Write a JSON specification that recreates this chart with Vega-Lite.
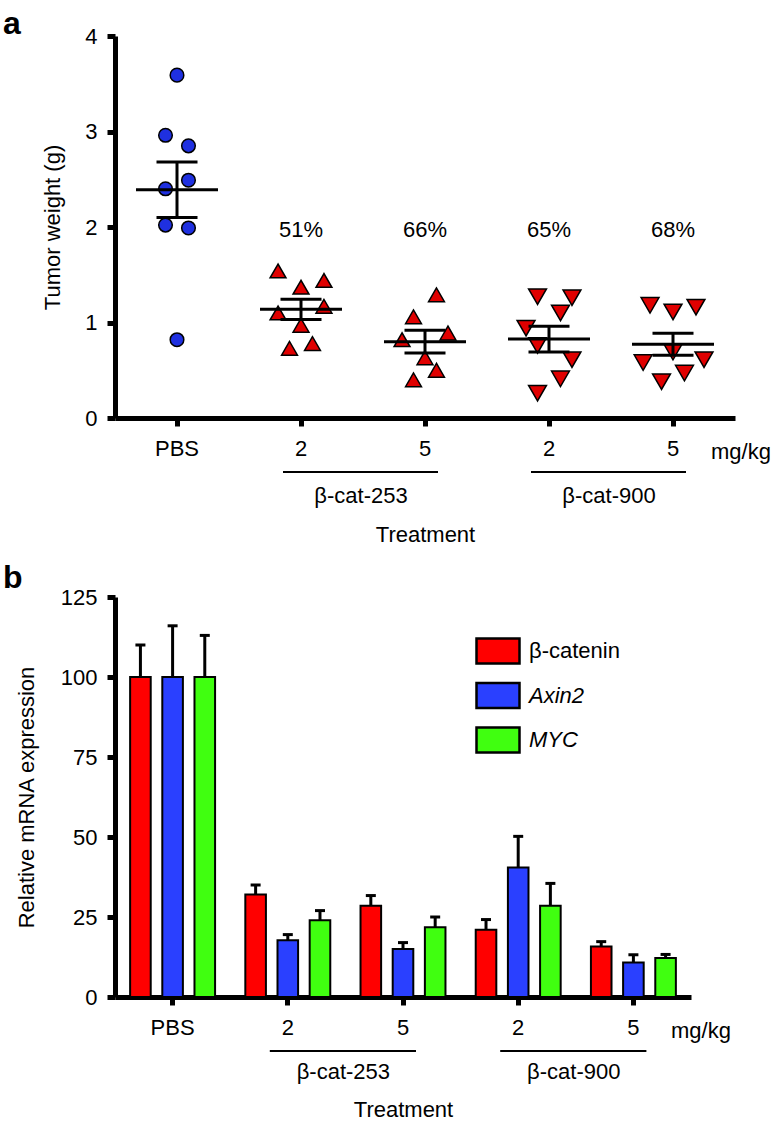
{
  "$schema": "https://vega.github.io/schema/vega-lite/v6.json",
  "background": "white",
  "padding": {"left": 3, "top": 8, "right": 0, "bottom": 0},
  "spacing": 17,
  "resolve": {
    "scale": {"x": "independent", "y": "independent", "fill": "independent", "shape": "independent", "size": "independent", "xOffset": "independent"},
    "legend": {"fill": "independent"}
  },
  "datasets": {
    "tumor": [
      {"group": "PBS", "compound": "PBS", "lane": 0, "weight": 3.59},
      {"group": "PBS", "compound": "PBS", "lane": -1, "weight": 2.96},
      {"group": "PBS", "compound": "PBS", "lane": 1, "weight": 2.85},
      {"group": "PBS", "compound": "PBS", "lane": 1, "weight": 2.49},
      {"group": "PBS", "compound": "PBS", "lane": -1, "weight": 2.40},
      {"group": "PBS", "compound": "PBS", "lane": -1, "weight": 2.02},
      {"group": "PBS", "compound": "PBS", "lane": 1, "weight": 1.99},
      {"group": "PBS", "compound": "PBS", "lane": 0, "weight": 0.82},
      {"group": "β-cat-253|2", "compound": "β-cat-253", "lane": -2, "weight": 1.54},
      {"group": "β-cat-253|2", "compound": "β-cat-253", "lane": 2, "weight": 1.44},
      {"group": "β-cat-253|2", "compound": "β-cat-253", "lane": 0, "weight": 1.37},
      {"group": "β-cat-253|2", "compound": "β-cat-253", "lane": -2, "weight": 1.10},
      {"group": "β-cat-253|2", "compound": "β-cat-253", "lane": 2, "weight": 1.17},
      {"group": "β-cat-253|2", "compound": "β-cat-253", "lane": 0, "weight": 0.97},
      {"group": "β-cat-253|2", "compound": "β-cat-253", "lane": -1, "weight": 0.73},
      {"group": "β-cat-253|2", "compound": "β-cat-253", "lane": 1, "weight": 0.78},
      {"group": "β-cat-253|5", "compound": "β-cat-253", "lane": 1, "weight": 1.29},
      {"group": "β-cat-253|5", "compound": "β-cat-253", "lane": -1, "weight": 1.06},
      {"group": "β-cat-253|5", "compound": "β-cat-253", "lane": -2, "weight": 0.82},
      {"group": "β-cat-253|5", "compound": "β-cat-253", "lane": 2, "weight": 0.89},
      {"group": "β-cat-253|5", "compound": "β-cat-253", "lane": 0, "weight": 0.63},
      {"group": "β-cat-253|5", "compound": "β-cat-253", "lane": 1, "weight": 0.50},
      {"group": "β-cat-253|5", "compound": "β-cat-253", "lane": -1, "weight": 0.40},
      {"group": "β-cat-900|2", "compound": "β-cat-900", "lane": -1, "weight": 1.27},
      {"group": "β-cat-900|2", "compound": "β-cat-900", "lane": 2, "weight": 1.26},
      {"group": "β-cat-900|2", "compound": "β-cat-900", "lane": 1, "weight": 1.10},
      {"group": "β-cat-900|2", "compound": "β-cat-900", "lane": -2, "weight": 0.94},
      {"group": "β-cat-900|2", "compound": "β-cat-900", "lane": -1, "weight": 0.76},
      {"group": "β-cat-900|2", "compound": "β-cat-900", "lane": 2, "weight": 0.61},
      {"group": "β-cat-900|2", "compound": "β-cat-900", "lane": 1, "weight": 0.41},
      {"group": "β-cat-900|2", "compound": "β-cat-900", "lane": -1, "weight": 0.26},
      {"group": "β-cat-900|5", "compound": "β-cat-900", "lane": -2, "weight": 1.18},
      {"group": "β-cat-900|5", "compound": "β-cat-900", "lane": 0, "weight": 1.11},
      {"group": "β-cat-900|5", "compound": "β-cat-900", "lane": 2, "weight": 1.16},
      {"group": "β-cat-900|5", "compound": "β-cat-900", "lane": 0, "weight": 0.69},
      {"group": "β-cat-900|5", "compound": "β-cat-900", "lane": -2.6, "weight": 0.58},
      {"group": "β-cat-900|5", "compound": "β-cat-900", "lane": 2.7, "weight": 0.61},
      {"group": "β-cat-900|5", "compound": "β-cat-900", "lane": 1, "weight": 0.47},
      {"group": "β-cat-900|5", "compound": "β-cat-900", "lane": -1, "weight": 0.38}
    ],
    "pct": [
      {"group": "β-cat-253|2", "pct": "51%"},
      {"group": "β-cat-253|5", "pct": "66%"},
      {"group": "β-cat-900|2", "pct": "65%"},
      {"group": "β-cat-900|5", "pct": "68%"}
    ],
    "compounds": [
      {"compound": "β-cat-253", "from": "β-cat-253|2", "to": "β-cat-253|5"},
      {"compound": "β-cat-900", "from": "β-cat-900|2", "to": "β-cat-900|5"}
    ],
    "unit": [
      {"group": "β-cat-900|5", "unit": "mg/kg"}
    ],
    "mrna": [
      {"group": "PBS", "gene": "β-catenin", "value": 100, "hi": 110},
      {"group": "PBS", "gene": "Axin2", "value": 100, "hi": 116},
      {"group": "PBS", "gene": "MYC", "value": 100, "hi": 113},
      {"group": "β-cat-253|2", "gene": "β-catenin", "value": 32, "hi": 35},
      {"group": "β-cat-253|2", "gene": "Axin2", "value": 17.7, "hi": 19.5},
      {"group": "β-cat-253|2", "gene": "MYC", "value": 24, "hi": 27},
      {"group": "β-cat-253|5", "gene": "β-catenin", "value": 28.5, "hi": 31.7},
      {"group": "β-cat-253|5", "gene": "Axin2", "value": 15, "hi": 17},
      {"group": "β-cat-253|5", "gene": "MYC", "value": 21.8, "hi": 25},
      {"group": "β-cat-900|2", "gene": "β-catenin", "value": 21, "hi": 24.2},
      {"group": "β-cat-900|2", "gene": "Axin2", "value": 40.5, "hi": 50.2},
      {"group": "β-cat-900|2", "gene": "MYC", "value": 28.5, "hi": 35.5},
      {"group": "β-cat-900|5", "gene": "β-catenin", "value": 15.8, "hi": 17.3},
      {"group": "β-cat-900|5", "gene": "Axin2", "value": 10.8, "hi": 13.2},
      {"group": "β-cat-900|5", "gene": "MYC", "value": 12.2, "hi": 13.3}
    ]
  },
  "vconcat": [
    {
      "width": 620,
      "height": 382,
      "title": {"text": "a", "anchor": "start", "frame": "group", "dx": -112, "offset": -16, "fontSize": 32, "fontWeight": "bold", "font": "Liberation Sans", "color": "black"},
      "layer": [
        {
          "data": {"name": "tumor"},
          "mark": {"type": "point", "filled": true, "stroke": "black", "strokeWidth": 1.5, "opacity": 1},
          "encoding": {
            "x": {"field": "group", "type": "nominal", "sort": null,
              "scale": {"domain": ["PBS", "β-cat-253|2", "β-cat-253|5", "β-cat-900|2", "β-cat-900|5"], "paddingInner": 0, "paddingOuter": 0},
              "axis": {"title": "Treatment", "labelAngle": 0, "labelPadding": 12, "titlePadding": 65,
                "labelExpr": "indexof(datum.label, '|') >= 0 ? split(datum.label, '|')[1] : datum.label"}},
            "xOffset": {"field": "lane", "type": "quantitative", "scale": {"domain": [-5.4, 5.4]}},
            "y": {"field": "weight", "type": "quantitative",
              "scale": {"domain": [0, 4], "nice": false, "zero": false},
              "axis": {"title": "Tumor weight (g)", "values": [0, 1, 2, 3, 4], "format": "d", "labelPadding": 10, "titlePadding": 20}},
            "shape": {"field": "compound", "type": "nominal",
              "scale": {"domain": ["PBS", "β-cat-253", "β-cat-900"], "range": ["circle", "triangle-up", "triangle-down"]}, "legend": null},
            "fill": {"field": "compound", "type": "nominal",
              "scale": {"domain": ["PBS", "β-cat-253", "β-cat-900"], "range": ["#1f30e0", "#e00000", "#e00000"]}, "legend": null},
            "size": {"field": "compound", "type": "nominal",
              "scale": {"domain": ["PBS", "β-cat-253", "β-cat-900"], "range": [185, 320, 320]}, "legend": null}
          }
        },
        {
          "data": {"name": "tumor"},
          "mark": {"type": "errorbar", "extent": "stderr", "color": "black", "thickness": 3,
            "rule": {"color": "black", "opacity": 1, "strokeWidth": 3},
            "ticks": {"size": 41, "thickness": 3, "color": "black", "opacity": 1}},
          "encoding": {
            "x": {"field": "group", "type": "nominal", "sort": null},
            "y": {"field": "weight", "type": "quantitative", "title": "Tumor weight (g)"}
          }
        },
        {
          "data": {"name": "tumor"},
          "mark": {"type": "tick", "size": 82, "thickness": 3, "color": "black", "opacity": 1},
          "encoding": {
            "x": {"field": "group", "type": "nominal", "sort": null},
            "y": {"field": "weight", "type": "quantitative", "aggregate": "mean", "title": "Tumor weight (g)"}
          }
        },
        {
          "data": {"name": "pct"},
          "mark": {"type": "text", "fontSize": 22, "baseline": "middle", "align": "center"},
          "encoding": {
            "x": {"field": "group", "type": "nominal", "sort": null},
            "y": {"datum": 1.97},
            "text": {"field": "pct"}
          }
        },
        {
          "data": {"name": "compounds"},
          "mark": {"type": "rule", "strokeWidth": 2, "color": "black", "xOffset": -18, "x2Offset": 13},
          "encoding": {
            "x": {"field": "from", "type": "nominal"},
            "x2": {"field": "to"},
            "y": {"datum": -0.565}
          }
        },
        {
          "data": {"name": "compounds"},
          "mark": {"type": "text", "fontSize": 22, "baseline": "middle", "align": "center", "dx": -2},
          "encoding": {
            "x": {"field": "from", "type": "nominal", "bandPosition": 1},
            "y": {"datum": -0.82},
            "text": {"field": "compound"}
          }
        },
        {
          "data": {"name": "unit"},
          "mark": {"type": "text", "fontSize": 22, "baseline": "middle", "align": "center", "dx": 6},
          "encoding": {
            "x": {"field": "group", "type": "nominal", "bandPosition": 1},
            "y": {"datum": -0.356},
            "text": {"field": "unit"}
          }
        }
      ]
    },
    {
      "width": 576,
      "height": 400,
      "title": {"text": "b", "anchor": "start", "frame": "group", "dx": -112, "offset": -9, "fontSize": 32, "fontWeight": "bold", "font": "Liberation Sans", "color": "black"},
      "layer": [
        {
          "data": {"name": "mrna"},
          "mark": {"type": "bar", "stroke": "black", "strokeWidth": 2, "opacity": 1},
          "encoding": {
            "x": {"field": "group", "type": "nominal", "sort": null,
              "scale": {"domain": ["PBS", "β-cat-253|2", "β-cat-253|5", "β-cat-900|2", "β-cat-900|5"], "paddingInner": 0, "paddingOuter": 0},
              "axis": {"title": "Treatment", "labelAngle": 0, "labelPadding": 12, "titlePadding": 61,
                "labelExpr": "indexof(datum.label, '|') >= 0 ? split(datum.label, '|')[1] : datum.label"}},
            "xOffset": {"field": "gene", "type": "nominal", "sort": ["β-catenin", "Axin2", "MYC"],
              "scale": {"domain": ["β-catenin", "Axin2", "MYC"], "paddingInner": 0.36, "paddingOuter": 0.47}},
            "y": {"field": "value", "type": "quantitative",
              "scale": {"domain": [0, 125], "nice": false},
              "axis": {"title": "Relative mRNA expression", "values": [0, 25, 50, 75, 100, 125], "labelPadding": 10, "titlePadding": 22}},
            "fill": {"field": "gene", "type": "nominal",
              "scale": {"domain": ["β-catenin", "Axin2", "MYC"], "range": ["#ff0000", "#2a40ff", "#40ff10"]},
              "legend": {"orient": "none", "legendX": 360, "legendY": 31, "title": null,
                "symbolType": "M-1,-0.58H1V0.58H-1Z", "symbolSize": 1849, "symbolStrokeColor": "black", "symbolStrokeWidth": 2.5, "symbolOpacity": 1,
                "labelFontSize": 22, "labelFont": "Liberation Sans", "labelColor": "black", "labelOffset": 8, "rowPadding": 3.5, "padding": 0,
                "encode": {"labels": {"update": {"fontStyle": {"signal": "datum.label === 'β-catenin' ? 'normal' : 'italic'"}}}}}}
          }
        },
        {
          "data": {"name": "mrna"},
          "mark": {"type": "rule", "strokeWidth": 3, "color": "black"},
          "encoding": {
            "x": {"field": "group", "type": "nominal", "sort": null},
            "xOffset": {"field": "gene", "type": "nominal", "sort": ["β-catenin", "Axin2", "MYC"]},
            "y": {"field": "value", "type": "quantitative", "title": "Relative mRNA expression"},
            "y2": {"field": "hi"}
          }
        },
        {
          "data": {"name": "mrna"},
          "mark": {"type": "tick", "size": 10, "thickness": 3, "color": "black", "opacity": 1, "orient": "horizontal"},
          "encoding": {
            "x": {"field": "group", "type": "nominal", "sort": null},
            "xOffset": {"field": "gene", "type": "nominal", "sort": ["β-catenin", "Axin2", "MYC"]},
            "y": {"field": "hi", "type": "quantitative", "title": "Relative mRNA expression"}
          }
        },
        {
          "data": {"name": "compounds"},
          "mark": {"type": "rule", "strokeWidth": 2, "color": "black", "xOffset": -18, "x2Offset": 13},
          "encoding": {
            "x": {"field": "from", "type": "nominal"},
            "x2": {"field": "to"},
            "y": {"datum": -16.9}
          }
        },
        {
          "data": {"name": "compounds"},
          "mark": {"type": "text", "fontSize": 22, "baseline": "middle", "align": "center", "dx": -2},
          "encoding": {
            "x": {"field": "from", "type": "nominal", "bandPosition": 1},
            "y": {"datum": -23.4},
            "text": {"field": "compound"}
          }
        },
        {
          "data": {"name": "unit"},
          "mark": {"type": "text", "fontSize": 22, "baseline": "middle", "align": "center", "dx": 10},
          "encoding": {
            "x": {"field": "group", "type": "nominal", "bandPosition": 1},
            "y": {"datum": -10.6},
            "text": {"field": "unit"}
          }
        }
      ]
    }
  ],
  "config": {
    "font": "Liberation Sans",
    "view": {"stroke": null},
    "axis": {"domainColor": "black", "domainWidth": 5, "tickColor": "black", "tickWidth": 5, "tickSize": 8,
      "labelFont": "Liberation Sans", "labelFontSize": 22, "labelColor": "black",
      "titleFont": "Liberation Sans", "titleFontSize": 22, "titleFontWeight": "normal", "titleColor": "black", "grid": false},
    "text": {"font": "Liberation Sans", "fontSize": 22, "color": "black"}
  }
}
